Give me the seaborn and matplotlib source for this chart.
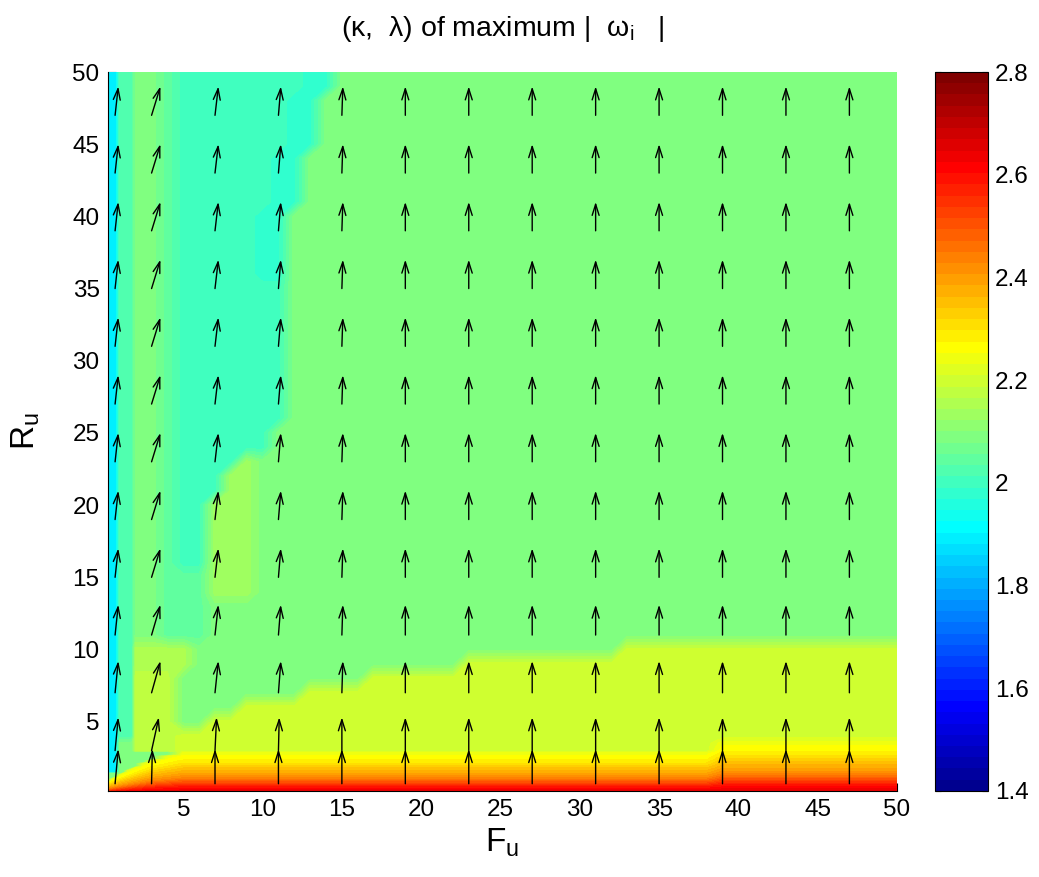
import numpy as np
import matplotlib
matplotlib.use("Agg")
import matplotlib.pyplot as plt
import seaborn as sns
from matplotlib.colors import ListedColormap, Normalize
from matplotlib.cm import ScalarMappable

# ---------------- data ----------------
F_ticks = [5, 10, 15, 20, 25, 30, 35, 40, 45, 50]
R_ticks = [5, 10, 15, 20, 25, 30, 35, 40, 45, 50]
cbar_ticks = [1.4, 1.6, 1.8, 2.0, 2.2, 2.4, 2.6, 2.8]
cbar_labels = ["1.4", "1.6", "1.8", "2", "2.2", "2.4", "2.6", "2.8"]

# |omega_i| levels of the regions
v_base = 2.089          # light green background
v_teal = 2.001          # upper-left teal region
v_teal_edge = 2.023     # thin teal strip next to the left edge
v_cyan_strip = 1.892    # cyan strip at the very left
v_cyanish = 1.980       # more cyan band along the teal boundary (top)
v_green_strip = 2.089   # green strip inside the teal region
v_mid_strip = 2.045     # intermediate strip
v_patch_upper = 2.133   # yellowish green patch under the teal step
v_patch_low1 = 2.176    # yellow-green patch near the left bottom
v_patch_low2 = 2.155
v_band = 2.198          # yellow-green band at the bottom

# right boundary of teal region (x) as function of R_u
teal_y_edges = [15.5, 21.0, 22.9, 24.0, 25.2, 41.0, 44.6, 48.7]
teal_x_right = [6.4, 7.2, 8.5, 10.0, 11.0, 12.0, 13.0, 14.0]

# top of the yellow-green band (R_u) as function of F_u
band_x_edges = [4.5, 6.5, 8.5, 12.5, 16.5, 22.5, 32.5]
band_top = [4.5, 5.5, 6.5, 7.4, 8.6, 9.8, 10.8]

# bottom gradient (yellow -> orange -> red)
bottom_y = [0.0, 0.2, 0.5, 0.8, 1.1, 1.45, 1.8, 2.1, 2.4, 2.8, 3.0]
bottom_v = [2.65, 2.64, 2.58, 2.50, 2.43, 2.38, 2.34, 2.30, 2.27, 2.245, 2.205]
bottom_scale_x = [0.25, 1.0, 3.0, 5.0, 38.4, 38.6, 50.0]
bottom_scale = [0.30, 0.45, 0.80, 1.0, 1.0, 1.25, 1.25]

# arrows (kappa, lambda)
arrow_F = [0.7, 3, 7, 11, 15, 19, 23, 27, 31, 35, 39, 43, 47]
arrow_R = [0.7, 3, 7, 11, 15, 19, 23, 27, 31, 35, 39, 43, 47]
kappa_upper = [0.20, 0.56, 0.21, 0.15, 0.06, 0, 0, 0, 0, 0, 0, 0, 0]
kappa_row3 = [0.20, 0.46, 0.10, 0.05, 0, 0, 0, 0, 0, 0, 0, 0, 0]
kappa_row0 = [0.20, 0.05, 0, 0, 0, 0, 0, 0, 0, 0, 0, 0, 0]
lambda_rows = [2.4, 2.3, 2.2, 2.1, 2.0, 2.0, 2.0, 2.0, 2.0, 2.0, 2.0, 2.0, 2.0]

# ---------------- build the field ----------------
xg = np.concatenate([[0.25, 0.5, 0.75, 1.0, 1.25, 1.5, 1.75, 2.0, 2.5], np.arange(3, 51, 1.0)])
yg = np.concatenate([np.arange(0.2, 3.01, 0.1), [3.5], np.arange(4, 51, 1.0)])
X, Y = np.meshgrid(xg, yg)

def step(vals, edges, outs, default):
    idx = np.searchsorted(edges, vals, side="right") - 1
    return np.where(idx >= 0, np.array(outs)[np.clip(idx, 0, None)], default)

Z = np.full(X.shape, v_base)
right = step(Y, teal_y_edges, teal_x_right, -1.0)

Z[(X >= 6.5) & (X <= 9.5) & (Y >= 13.5) & (Y <= 23.5)] = v_patch_upper
teal = (X > 0.8) & (X <= right) & (Y >= 15.5)
Z[teal] = v_teal
Z[teal & (X >= right - 1.0) & (Y >= 36)] = v_cyanish
Z[(X >= 3.0) & (X <= 6.4) & (Y >= 11) & (Y < 15.5)] = v_mid_strip
Z[(X > 3.0) & (X <= 4.0) & (Y >= 15.5)] = v_mid_strip
Z[(X > 1.8) & (X <= 3.0) & (Y >= 11)] = v_green_strip
Z[(X > 0.8) & (X <= 1.8) & (Y >= 4)] = v_teal_edge
Z[(X <= 0.8) & (Y >= 1.5)] = v_cyan_strip
Z[(X > 1.8) & (X <= 4.5) & (Y >= 3) & (Y <= 8)] = v_patch_low1
Z[(X > 1.8) & (X <= 5.0) & (Y > 8) & (Y < 11)] = v_patch_low2
btop = step(X, band_x_edges, band_top, -1.0)
Z[(X >= 4.5) & (Y <= btop)] = v_band
s = np.interp(X, bottom_scale_x, bottom_scale)
Yn = Y / s
bot = Yn < 3.0
Z[bot] = np.interp(Yn[bot], bottom_y, bottom_v)

# ---------------- MATLAB jet(64) ----------------
def matlab_jet(m=64):
    n = int(np.ceil(m / 4))
    u = np.concatenate([np.arange(1, n + 1) / n, np.ones(n - 1), np.arange(n, 0, -1) / n])
    g = int(np.ceil(n / 2)) - (1 if m % 4 == 1 else 0) + np.arange(1, len(u) + 1)
    r = g + n
    b = g - n
    J = np.zeros((m, 3))
    for col, idx in ((0, r), (1, g), (2, b)):
        ok = (idx >= 1) & (idx <= m)
        J[idx[ok] - 1, col] = u[ok]
    return ListedColormap(J)

cmap = matlab_jet(64)
norm = Normalize(1.4, 2.8)
levels = np.linspace(1.4, 2.8, 65)

# ---------------- plotting ----------------
sns.set_style("white")
plt.rcParams["font.family"] = ["Liberation Sans", "DejaVu Sans"]
plt.rcParams["mathtext.fontset"] = "custom"
plt.rcParams["mathtext.rm"] = "Liberation Sans"
plt.rcParams["mathtext.it"] = "Liberation Sans:italic"
plt.rcParams["mathtext.default"] = "regular"
for k in ("text.color", "axes.labelcolor", "xtick.color", "ytick.color"):
    plt.rcParams[k] = "black"

fig = plt.figure(figsize=(10.39, 8.77), dpi=100)
ax = fig.add_axes([0.1039, 0.0981, 0.7594, 0.8198])
ax.contourf(X, Y, Z, levels=levels, cmap=cmap, norm=norm, antialiased=False)

for j, ry in enumerate(arrow_R):
    krow = kappa_row0 if j == 0 else (kappa_row3 if j == 1 else kappa_upper)
    for i, fx in enumerate(arrow_F):
        ax.annotate("", xy=(fx + krow[i], ry + lambda_rows[j]), xytext=(fx, ry),
                    arrowprops=dict(arrowstyle="->,head_length=0.8,head_width=0.25",
                                    lw=1.0, color="black", shrinkA=0, shrinkB=0,
                                    mutation_scale=10))

ax.set_xlim(0.25, 50)
ax.set_ylim(0.2, 50)
ax.set_xticks(F_ticks)
ax.set_yticks(R_ticks)
ax.tick_params(direction="in", length=6, width=0.8, labelsize=17.5,
               bottom=True, left=True, top=False, right=False, pad=6)
for side in ("top", "right"):
    ax.spines[side].set_visible(False)
for side in ("left", "bottom"):
    ax.spines[side].set_color("black")
    ax.spines[side].set_linewidth(0.8)

ax.set_title("(κ,  λ) of maximum |  ω$_{i}$   |", fontsize=20.5, pad=26)
ax.set_xlabel("F$_{u}$", fontsize=24, labelpad=4)
ax.set_ylabel("R$_{u}$", fontsize=24, labelpad=22)

cax = fig.add_axes([0.8999, 0.0981, 0.051, 0.8198])
cb = fig.colorbar(ScalarMappable(norm=norm, cmap=cmap), cax=cax, ticks=cbar_ticks)
cb.set_ticklabels(cbar_labels)
cb.outline.set_edgecolor("black")
cb.outline.set_linewidth(0.8)
cax.tick_params(direction="in", length=4, width=0.8, labelsize=17.5, left=True, right=True, pad=5)

fig.savefig("out.png", dpi=100)
